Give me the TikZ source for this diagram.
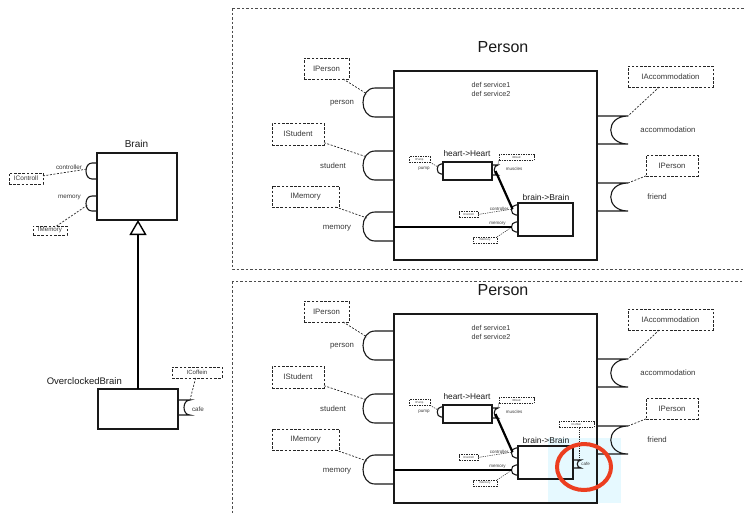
\documentclass[tikz,border=0pt]{standalone}
\usepackage{fontspec}
\setmainfont{Liberation Sans}
\usetikzlibrary{arrows.meta}
\definecolor{txt}{RGB}{55,55,55}
\definecolor{hl}{RGB}{230,249,255}
\definecolor{redc}{RGB}{236,62,32}
\newcommand\fs[1]{\fontsize{#1}{#1}\selectfont}
% ball port bulging left: x, ytop, ybottom, a, b
\newcommand\ballL[5]{\draw[portln] (#1,#2) -- ++(-#4,0) .. controls +(-#5,0) and +(-#5,0) .. (#1-#4,#3) -- (#1,#3);}
% socket port on right side: x, ytop, ybottom, a, b
\newcommand\sockR[5]{\draw[portln] (#1,#2) -- ++(#4,0) .. controls +(-#5,0) and +(-#5,0) .. (#1+#4,#3) -- (#1,#3);}
\tikzset{
  cbox/.style={draw=black!90, line width=1.1pt, inner sep=0pt, outer sep=0pt},
  portln/.style={draw=black!90, line width=1.1pt},
  iface/.style={draw=black!85, dash pattern=on 2.6pt off 1.6pt, line width=0.8pt, inner sep=0pt, outer sep=0pt, text=txt},
  tface/.style={iface, line width=0.6pt, dash pattern=on 1.5pt off 1pt, font=\fs{2.8}},
  conn/.style={draw=black!85, dash pattern=on 2pt off 1.5pt, line width=0.7pt},
  tconn/.style={conn, line width=0.5pt, dash pattern=on 1.3pt off 1pt},
  lbl/.style={inner sep=0pt, text=txt, font=\fs{7.8}},
  slbl/.style={inner sep=0pt, text=txt, font=\fs{4.5}},
  ttl/.style={inner sep=0pt, text=black!90},
  wireln/.style={draw=black, line width=2.2pt},
  framebox/.style={draw=black!70, dash pattern=on 2.5pt off 2pt, line width=0.6pt},
}
\newcommand\PersonDiagram[1]{%
  \node[ttl, font=\fs{16}] (#1title) at (503,47) {Person};
  \node[cbox, minimum width=203, minimum height=189] (#1box) at (495.5,165.5) {};
  \node[lbl, align=center, font=\fontsize{7.2}{9.3}\selectfont] (#1svc) at (491,89.5) {def service1\\def service2};
  % left ports
  \ballL{394}{88}{117}{19}{16}
  \ballL{394}{151}{180}{19}{16}
  \ballL{394}{212}{241}{19}{16}
  \coordinate (#1pperson) at (367,94);
  \coordinate (#1pstudent) at (367,157);
  \coordinate (#1pmemory) at (367,218);
  \coordinate (#1pmemin) at (394,227);
  \node[lbl] (#1lperson) at (342,103.5) {person};
  \node[lbl] (#1lstudent) at (333,166) {student};
  \node[lbl] (#1lmemory) at (337,228) {memory};
  \node[iface, minimum width=45, minimum height=21, font=\fs{7.8}] (#1iperson) at (326.5,68.5) {IPerson};
  \node[iface, minimum width=52, minimum height=22, font=\fs{7.8}] (#1istudent) at (298,134) {IStudent};
  \node[iface, minimum width=67, minimum height=21, font=\fs{7.8}] (#1imemory) at (305.5,196.5) {IMemory};
  \draw[conn] (#1iperson) -- (#1pperson);
  \draw[conn] (#1istudent) -- (#1pstudent);
  \draw[conn] (#1imemory) -- (#1pmemory);
  % right ports
  \sockR{597}{116}{144}{31}{23}
  \sockR{597}{183}{211}{31}{23}
  \coordinate (#1pacc) at (628,116);
  \coordinate (#1pfriend) at (628,183);
  \node[lbl] (#1lacc) at (668,130) {accommodation};
  \node[lbl] (#1lfriend) at (657,197) {friend};
  \node[iface, minimum width=85, minimum height=21, font=\fs{7.8}] (#1iacc) at (670.5,76.5) {IAccommodation};
  \node[iface, minimum width=52, minimum height=21, font=\fs{7.8}] (#1ifriend) at (672,165.5) {IPerson};
  \draw[conn] (#1iacc) -- (#1pacc);
  \draw[conn] (#1ifriend) -- (#1pfriend);
  % heart
  \node[cbox, minimum width=49, minimum height=18] (#1heart) at (467.5,171) {};
  \node[ttl, font=\fs{8.3}] (#1lheart) at (467,154) {heart->Heart};
  \ballL{443}{164}{174}{2}{5}
  \sockR{492}{165}{175}{6}{5}
  \coordinate (#1ppump) at (438,167);
  \coordinate (#1pmus) at (497.5,165.5);
  \coordinate (#1pmusc) at (495.5,171);
  \node[slbl] (#1lpump) at (424,169) {pump};
  \node[slbl] (#1lmus) at (514,168.5) {muscles};
  \node[tface, minimum width=21, minimum height=5.5] (#1ipump) at (419.5,159.5) {IPump};
  \node[tface, minimum width=35, minimum height=5.5] (#1iblood) at (516.5,157.5) {IBlood};
  \draw[tconn] (#1ipump.south east) -- (#1ppump);
  \draw[tconn] (#1iblood.south west) -- (#1pmus);
  % brain
  \node[cbox, minimum width=55, minimum height=33] (#1brain) at (545.5,219.5) {};
  \node[ttl, font=\fs{8.5}] (#1lbrain) at (546,197) {brain->Brain};
  \ballL{518}{205}{215}{2}{6}
  \ballL{518}{222}{232}{2}{6}
  \coordinate (#1pctl) at (512.5,209);
  \coordinate (#1pmem) at (512,227);
  \node[slbl] (#1lctl) at (499,209) {controller};
  \node[slbl] (#1lmem) at (497.5,224) {memory};
  \node[tface, minimum width=19, minimum height=5.5] (#1ictl) at (468.5,214.5) {IControll};
  \node[tface, minimum width=24, minimum height=6] (#1imem) at (485,240) {IMemory};
  \draw[tconn] (#1ictl.east) -- (#1pctl);
  \draw[tconn] (#1imem.north east) -- (#1pmem);
  \draw[wireln] (#1pmusc) -- (#1pctl);
  \draw[wireln] (#1pmemin) -- (#1pmem);
}
\begin{document}
\begin{tikzpicture}[x=1pt,y=-1pt]
\useasboundingbox (0,0) rectangle (744,512);
\clip (0,0) rectangle (744,512);
\fill[hl] (548,438) rectangle (621,503);
\draw[framebox] (232,8) rectangle (760,269);
\draw[framebox] (232,281) rectangle (760,530);
% ---- left: Brain and OverclockedBrain
\node[cbox, minimum width=80, minimum height=67] (brain) at (137,186.5) {};
\node[ttl, font=\fs{10}] (brainlbl) at (136.5,144) {Brain};
\ballL{97}{163}{179}{5}{8}
\ballL{97}{196}{211}{5}{8}
\coordinate (bctl) at (87.5,169);
\coordinate (bmem) at (87.5,205);
\node[lbl, font=\fs{6.3}] (bctllbl) at (69,167) {controller};
\node[lbl, font=\fs{6.3}] (bmemlbl) at (69.5,197) {memory};
\node[iface, minimum width=34, minimum height=11, font=\fs{6.5}] (bictl) at (26,178.5) {IControll};
\node[iface, minimum width=34, minimum height=9, font=\fs{6.2}] (bimem) at (50,230.5) {IMemory};
\draw[conn] (bictl) -- (bctl);
\draw[conn] (bimem) -- (bmem);
\node[cbox, minimum width=80, minimum height=40] (ob) at (138,409) {};
\node[ttl, font=\fs{9.5}, anchor=east] (oblbl) at (122,381) {OverclockedBrain};
\sockR{178}{400}{415}{12}{8}
\coordinate (ocafe) at (190,400);
\node[lbl, font=\fs{6.3}] (ocafelbl) at (198,409) {cafe};
\node[iface, minimum width=50, minimum height=11, font=\fs{6}] (oicof) at (197,372.5) {ICoffein};
\draw[conn] (oicof) -- (ocafe);
\draw[line width=2.5pt, -{Triangle[open, length=15pt, width=17pt, line width=1.4pt]}] (ob.north) -- (ob.north |- brain.south);
% ---- Person diagrams
\PersonDiagram{t}
\begin{scope}[yshift=-243pt]
\PersonDiagram{b}
\end{scope}
% ---- extras in lower diagram
\sockR{573}{460}{468}{8}{5}
\coordinate (bcafe) at (579,460.5);
\node[slbl] (bcafelbl) at (585.5,464) {cafe};
\node[tface, minimum width=35, minimum height=5.5] (bicof) at (576.5,424.5) {ICoffein};
\draw[tconn] (bicof.south -| bcafe) -- (bcafe);
\draw[redc, line width=4pt] (584,467) ellipse [x radius=27, y radius=23];
\end{tikzpicture}
\end{document}
